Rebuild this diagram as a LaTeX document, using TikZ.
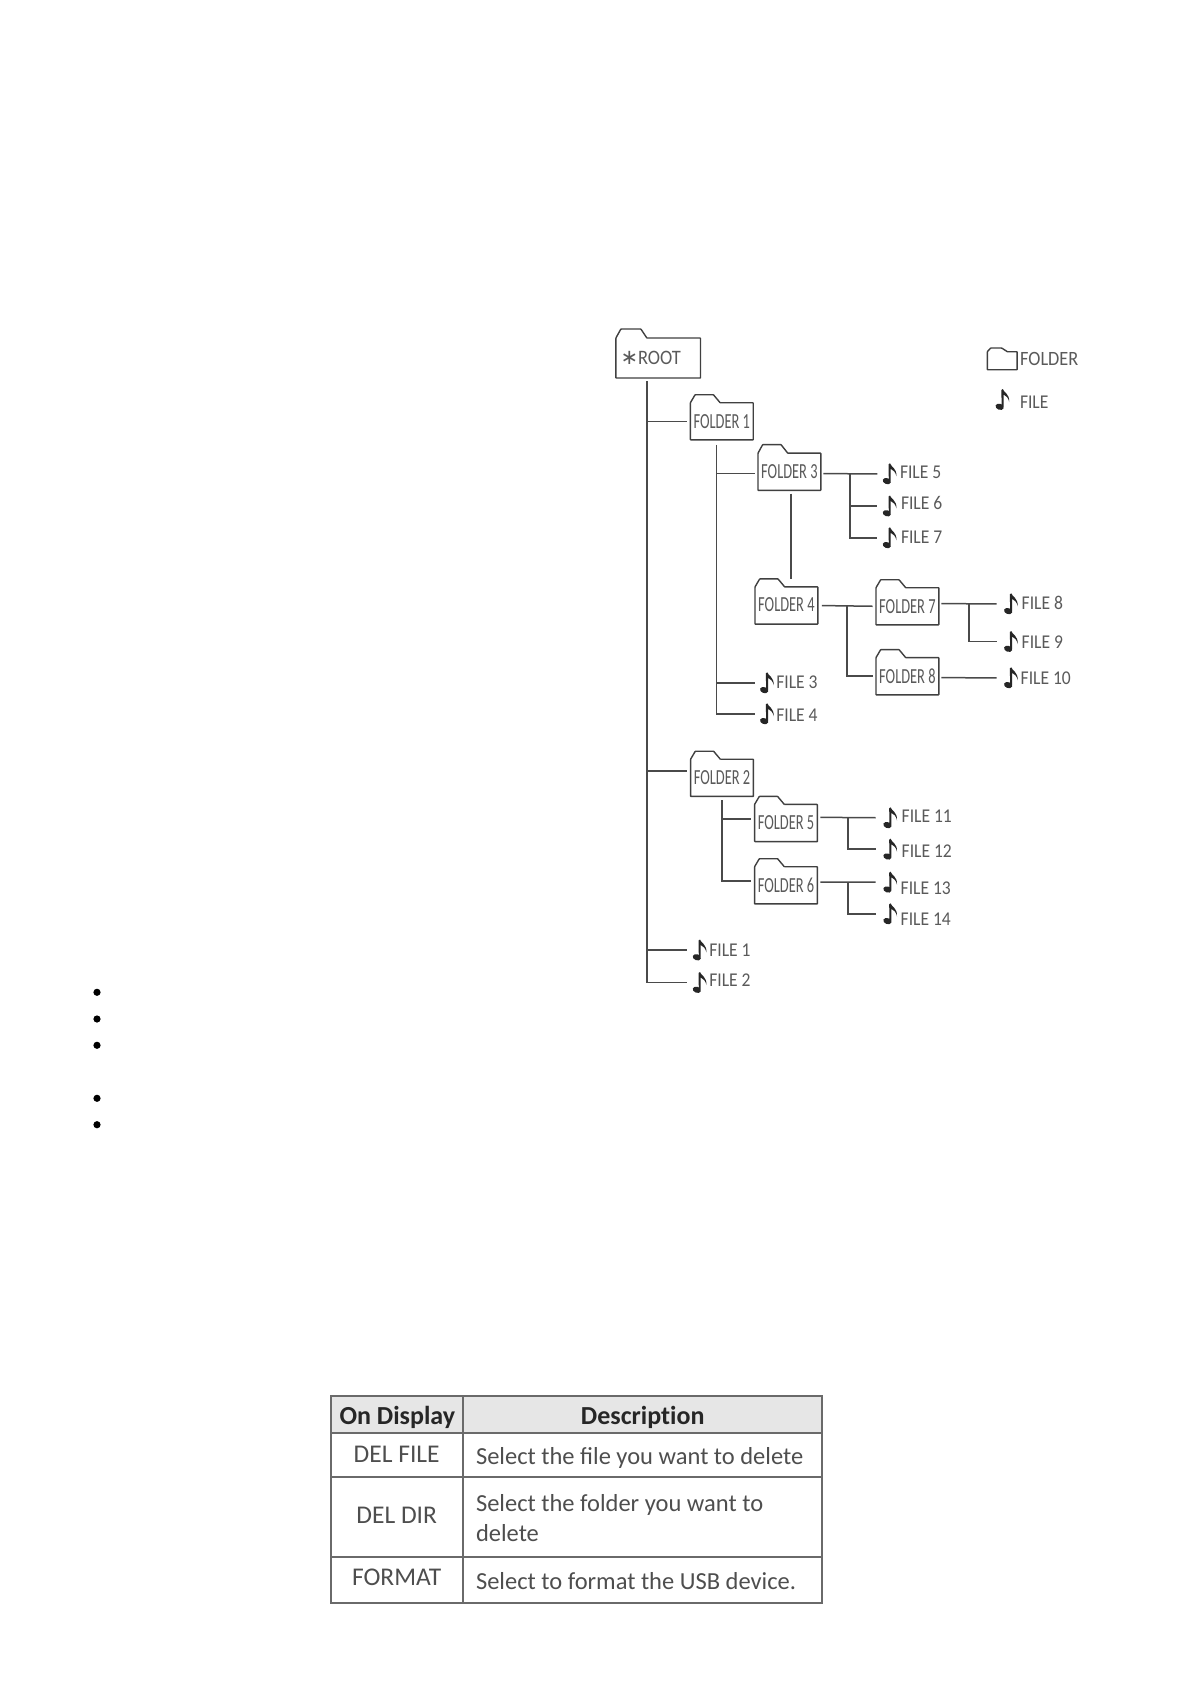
\documentclass[tikz,border=0pt]{standalone}
\usepackage{fontspec}
\setmainfont{Carlito}
\newfontfamily\foldfont[FakeStretch=0.67]{Carlito}
\newfontfamily\filefont[FakeStretch=0.9]{Carlito}
\newfontfamily\symfont{DejaVu Sans}
\definecolor{lineC}{HTML}{4A4A4A}
\definecolor{textC}{HTML}{5A5A5A}
\definecolor{cellC}{HTML}{4E4E4E}
\definecolor{headC}{HTML}{E6E6E6}
\definecolor{gridC}{HTML}{6A6A6A}
\tikzset{
  wire/.style={draw=lineC,line width=1.5pt,line join=miter},
  folderline/.style={draw=black!75,line width=1.4pt,rounded corners=0.5pt},
  folderbox/.style n args={4}{rectangle,inner sep=0pt,outer sep=0pt,
    minimum width=62.8pt,minimum height=37.2pt,
    font=\foldfont\fontsize{21.5}{21.5}\selectfont,text=textC,
    append after command={\pgfextra{
      \draw[folderline] ([xshift=#3pt]\tikzlastnode.north west)
        -- (\tikzlastnode.north east) -- (\tikzlastnode.south east)
        -- (\tikzlastnode.south west) -- (\tikzlastnode.north west)
        -- ([xshift=#1pt,yshift=#4pt]\tikzlastnode.north west)
        -- ([xshift=#2pt,yshift=#4pt]\tikzlastnode.north west)
        -- ([xshift=#3pt]\tikzlastnode.north west);
    }}},
  notebox/.style={rectangle,inner sep=0pt,outer sep=0pt,minimum width=13.5pt,minimum height=21pt,anchor=north west,
    append after command={\pgfextra{
      \fill[black!85,shift={(\tikzlastnode.north west)}]
        (5.9,1) -- (7.3,0) .. controls (8,3.5) and (14.2,4.5) .. (13.7,13)
        .. controls (13,9) and (10.5,6.5) .. (8,5.5) -- (8,18.2) -- (6.1,18.2) -- cycle
        (4.1,17.8) ellipse [x radius=4.2,y radius=3,rotate=-20];
    }}},
  filetext/.style={anchor=west,inner sep=0pt,outer sep=0pt,text=textC,font=\filefont\fontsize{19.5}{20}\selectfont},
  celltext/.style={inner sep=0pt,outer sep=0pt,text=cellC,font=\fontsize{24.5}{26}\selectfont},
  lefttext/.style={inner sep=0pt,outer sep=0pt,text=cellC,font=\fontsize{25.5}{26}\selectfont},
  headtext/.style={inner sep=0pt,outer sep=0pt,text=black!85,font=\bfseries\fontsize{26}{26}\selectfont\addfontfeatures{RawFeature=-liga}},
  gridline/.style={draw=gridC,line width=1.8pt},
  bulletdot/.style={fill=black}
}
\begin{document}
\begin{tikzpicture}[x=1pt,y=-1pt]
\useasboundingbox[fill=white] (0,0) rectangle (1190,1684);

% folders
\node[folderbox={5}{25}{31}{9},minimum width=84.6pt,minimum height=40pt,font=\filefont\fontsize{20.5}{20}\selectfont] (root) at (658.2,358) {\raisebox{-1pt}{{\symfont\fontsize{21}{16}\selectfont ∗}ROOT}\kern15pt};
\node[folderbox={4.7}{23}{29.7}{8}] (f1) at (721.8,421.3) {\raisebox{-1pt}{FOLDER 1}};
\node[folderbox={4.7}{23}{29.7}{8.5}] (f3) at (789.4,471.7) {\raisebox{1pt}{FOLDER 3}};
\node[folderbox={4.7}{23}{29.7}{8}] (f4) at (786.4,605.5) {\raisebox{1pt}{FOLDER 4}};
\node[folderbox={4.7}{23}{29.7}{8}] (f7) at (907.4,606.3) {FOLDER 7};
\node[folderbox={4.7}{23}{29.7}{8}] (f8) at (907.4,676.2) {\raisebox{1pt}{FOLDER 8}};
\node[folderbox={4.7}{23}{29.7}{8}] (f2) at (722,777.8) {\raisebox{-1.5pt}{FOLDER 2}};
\node[folderbox={4.7}{23}{29.7}{8}] (f5) at (786,823) {FOLDER 5};
\node[folderbox={4.7}{23}{29.7}{8}] (f6) at (786,885.3) {\raisebox{-1.5pt}{FOLDER 6}};
\node[folderbox={3.3}{14.3}{20}{3.7},minimum width=29.7pt,minimum height=18pt] (legf) at (1002.2,360.7) {};

% notes
\node[notebox] (n5) at (882.7,463.3) {};
\node[notebox] (n6) at (882.7,495.5) {};
\node[notebox] (n7) at (882.7,527.3) {};
\node[notebox] (n8) at (1004,593.3) {};
\node[notebox] (n9) at (1004,631) {};
\node[notebox] (n10) at (1004,667.3) {};
\node[notebox] (n3) at (760,672.3) {};
\node[notebox] (n4) at (760,703.3) {};
\node[notebox] (n11) at (883.3,807.3) {};
\node[notebox] (n12) at (883.3,838.7) {};
\node[notebox] (n13) at (883.3,871.7) {};
\node[notebox] (n14) at (883.3,903.3) {};
\node[notebox] (n1) at (692.7,939.5) {};
\node[notebox] (n2) at (692.7,972) {};
\node[notebox] (legn) at (995.5,389) {};

% file labels
\node[filetext] (t5) at (900,472) {FILE 5};
\node[filetext] (t6) at (901,503) {FILE 6};
\node[filetext] (t7) at (901,537.2) {FILE 7};
\node[filetext] (t8) at (1021.7,603.3) {FILE 8};
\node[filetext] (t9) at (1021.7,641.7) {FILE 9};
\node[filetext] (t10) at (1020.7,678.7) {FILE 10};
\node[filetext] (t3) at (776.3,682.7) {FILE 3};
\node[filetext] (t4) at (776.3,715.3) {FILE 4};
\node[filetext] (t11) at (901.7,816.3) {FILE 11};
\node[filetext] (t12) at (901.7,850.7) {FILE 12};
\node[filetext] (t13) at (900.7,888.5) {FILE 13};
\node[filetext] (t14) at (900.7,919.5) {FILE 14};
\node[filetext] (t1) at (709.3,950.3) {FILE 1};
\node[filetext] (t2) at (709.3,980.3) {FILE 2};
\node[filetext,font=\filefont\fontsize{20.3}{21}\selectfont] (legft) at (1020.2,359.4) {FOLDER};
\node[filetext] (legt) at (1020,402) {FILE};

% ports
\coordinate (rootT) at ([xshift=-11.2pt,yshift=-3pt]root.south);
\coordinate (f2in) at ([yshift=6.8pt]f2.west);
\coordinate (f1T) at ([xshift=-5.1pt,yshift=-5pt]f1.south);
\coordinate (f3in) at ([yshift=-2pt]f3.west);
\coordinate (f3out) at ([yshift=-2pt]f3.east);
\coordinate (f3bus) at ([xshift=29.3pt,yshift=-2pt]f3.east);
\coordinate (f4bus) at ([xshift=29.3pt]f4.east);
\coordinate (f7out) at ([yshift=2.6pt]f7.east);
\coordinate (f7bus) at ([xshift=30pt,yshift=2.6pt]f7.east);
\coordinate (f8out) at ([yshift=-1.5pt]f8.east);
\coordinate (f2T) at ([yshift=-4pt]f2.south);
\coordinate (f5in) at ([yshift=4pt]f5.west);
\coordinate (f6in) at ([yshift=4.3pt]f6.west);
\coordinate (f5out) at ([yshift=5.7pt]f5.east);
\coordinate (f6out) at ([yshift=3.3pt]f6.east);
\coordinate (f5bus) at ([xshift=30.7pt,yshift=5.7pt]f5.east);
\coordinate (f6bus) at ([xshift=30.7pt,yshift=3.3pt]f6.east);
\coordinate (f3S) at ([xshift=1.6pt,yshift=-3.3pt]f3.south);

% connectors
\draw[wire,shorten >=5.5pt] (rootT) |- (n2.west);
\draw[wire,shorten >=3.3pt] (rootT |- f1.west) -- (f1.west);
\draw[wire,shorten >=3.7pt] (rootT |- f2in) -- (f2in);
\draw[wire,shorten >=5.5pt] (rootT |- n1.west) -- (n1.west);

\draw[wire,shorten >=5pt] (f1T) |- (n4.west);
\draw[wire,shorten >=3pt] (f1T |- f3in) -- (f3in);
\draw[wire,shorten >=5pt] (f1T |- n3.west) -- (n3.west);

\draw[wire,shorten <=2.6pt,shorten >=5.4pt] (f3out) -- (n5.west);
\draw[wire,shorten >=5.4pt] (f3bus) |- (n7.west);
\draw[wire,shorten >=5.4pt] (f3bus |- n6.west) -- (n6.west);
\draw[wire,shorten >=7.7pt] (f3S) -- (f3S |- f4.north);

\draw[wire,shorten <=4pt,shorten >=3.3pt] (f4.east) -- (f7.west);
\draw[wire,shorten >=3.3pt] (f4bus) |- (f8.west);

\draw[wire,shorten <=2.6pt,shorten >=7.3pt] (f7out) -- (n8.west);
\draw[wire,shorten >=7.3pt] (f7bus) |- (n9.west);
\draw[wire,shorten <=2.6pt,shorten >=7.3pt] (f8out) -- (n10.west);

\draw[wire,shorten >=4pt] (f2T) |- (f6in);
\draw[wire,shorten >=4pt] (f2T |- f5in) -- (f5in);

\draw[wire,shorten <=3pt,shorten >=7.6pt] (f5out) -- (n11.west);
\draw[wire,shorten >=7.6pt] (f5bus) |- (n12.west);
\draw[wire,shorten <=3pt,shorten >=7.6pt] (f6out) -- (n13.west);
\draw[wire,shorten >=7.6pt] (f6bus) |- (n14.west);

% bullets
\foreach \yy in {992.3,1019,1045.3,1098.3,1124.7} \fill[bulletdot] (97,\yy) circle (3.6pt);

% table
\fill[headC] (331.3,1396) rectangle (821.7,1432.7);
\draw[gridline] (331.3,1396) rectangle (821.7,1602.7);
\draw[gridline] (462.7,1396) -- (462.7,1602.7);
\draw[gridline] (331.3,1432.7) -- (821.7,1432.7);
\draw[gridline] (331.3,1476.7) -- (821.7,1476.7);
\draw[gridline] (331.3,1556.7) -- (821.7,1556.7);

\node[headtext,anchor=base] (h1) at (397.3,1424) {On Display};
\node[headtext,anchor=base] (h2) at (642.7,1424) {Description};
\node[lefttext,anchor=base] (c1) at (396.7,1462) {DEL FILE};
\node[lefttext,anchor=base] (c2) at (396.7,1523) {DEL DIR};
\node[lefttext,anchor=base] (c3) at (396.7,1585.5) {FORMAT};
\node[celltext,anchor=base west] (d1) at (476,1464.3) {Select the file you want to delete};
\node[celltext,anchor=base west] (d2) at (476,1511) {Select the folder you want to};
\node[celltext,anchor=base west] (d3) at (476,1541) {delete};
\node[celltext,anchor=base west] (d4) at (476,1589) {Select to format the USB device.};
\end{tikzpicture}
\end{document}
